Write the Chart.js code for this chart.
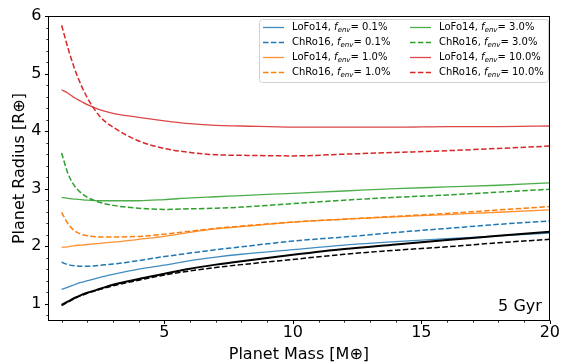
<!DOCTYPE html>
<html><head><meta charset="utf-8">
<script src="https://cdn.jsdelivr.net/npm/chart.js@4.4.0/dist/chart.umd.min.js"></script>
<style>html,body{margin:0;padding:0;background:#fff;}canvas{display:block;}</style>
</head><body>
<canvas id="c" width="562" height="364"></canvas>
<script>
// ---- data ----
const masses = [1, 1.25, 1.5, 1.75, 2, 2.5, 3, 4, 5, 6, 7, 8, 10, 12, 14, 16, 18, 20];
const rockyLoFo = [0.98, 1.04, 1.10, 1.15, 1.19, 1.26, 1.33, 1.43, 1.52, 1.61, 1.68, 1.74, 1.85, 1.95, 2.03, 2.11, 2.18, 2.25];
const rockyChRo = [0.97, 1.03, 1.09, 1.14, 1.18, 1.25, 1.31, 1.41, 1.50, 1.57, 1.63, 1.68, 1.77, 1.86, 1.93, 1.99, 2.06, 2.12];
const lofo01 = [1.25, 1.29, 1.33, 1.37, 1.40, 1.46, 1.51, 1.60, 1.67, 1.75, 1.81, 1.86, 1.94, 2.02, 2.08, 2.13, 2.18, 2.23];
const chro01 = [1.72, 1.68, 1.66, 1.65, 1.65, 1.67, 1.69, 1.75, 1.82, 1.88, 1.94, 1.99, 2.09, 2.16, 2.24, 2.31, 2.38, 2.44];
const lofo1 = [1.98, 1.99, 2.01, 2.02, 2.03, 2.05, 2.07, 2.12, 2.17, 2.24, 2.30, 2.34, 2.42, 2.47, 2.51, 2.55, 2.59, 2.63];
const chro1 = [2.59, 2.39, 2.27, 2.21, 2.18, 2.16, 2.16, 2.17, 2.21, 2.26, 2.31, 2.35, 2.42, 2.47, 2.52, 2.57, 2.63, 2.69];
const lofo3 = [2.85, 2.83, 2.82, 2.81, 2.80, 2.79, 2.79, 2.79, 2.81, 2.84, 2.86, 2.88, 2.92, 2.96, 3.00, 3.03, 3.06, 3.10];
const chro3 = [3.62, 3.26, 3.05, 2.93, 2.85, 2.76, 2.71, 2.66, 2.64, 2.65, 2.66, 2.68, 2.74, 2.80, 2.85, 2.89, 2.94, 2.99];
const lofo10 = [4.72, 4.66, 4.58, 4.52, 4.46, 4.37, 4.31, 4.24, 4.18, 4.13, 4.10, 4.09, 4.07, 4.07, 4.07, 4.08, 4.08, 4.09];
const chro10 = [5.84, 5.44, 5.09, 4.81, 4.58, 4.25, 4.07, 3.83, 3.70, 3.63, 3.59, 3.58, 3.57, 3.60, 3.63, 3.66, 3.70, 3.74];

const fenvLabels = ['0.1%', '1.0%', '3.0%', '10.0%'];
const modelNames = ['LoFo14', 'ChRo16'];
const xTickLabels = [5, 10, 15, 20];
const yTickLabels = [1, 2, 3, 4, 5, 6];
const ageLabel = '5 Gyr';
const xTitle = 'Planet Mass [M\u2295]';
const yTitle = 'Planet Radius [R\u2295]';

// ---- styles ----
const colors = ['#1f77b4', '#ff7f0e', '#2ca02c', '#d62728'];
const solidColors = ['rgba(31,119,180,0.85)', 'rgba(255,127,14,0.85)', 'rgba(44,160,44,0.85)', 'rgba(214,39,40,0.85)'];
const DASH = [5.5, 2.4];

function pts(arr) { return masses.map((m, i) => ({x: m, y: arr[i]})); }

const lofoSets = [lofo01, lofo1, lofo3, lofo10];
const chroSets = [chro01, chro1, chro3, chro10];
const datasets = [];
datasets.push({label: 'rocky LoFo14', data: pts(rockyLoFo), borderColor: '#000', borderWidth: 2, order: 0});
datasets.push({label: 'rocky ChRo16', data: pts(rockyChRo), borderColor: '#000', borderWidth: 1.5, borderDash: DASH, order: 1});
for (let k = 0; k < 4; k++) {
  datasets.push({label: modelNames[0] + ', f_env= ' + fenvLabels[k], model: modelNames[0], fenv: fenvLabels[k],
    inLegend: true, data: pts(lofoSets[k]), borderColor: solidColors[k], borderWidth: 1.3, order: 2 + 2 * k});
  datasets.push({label: modelNames[1] + ', f_env= ' + fenvLabels[k], model: modelNames[1], fenv: fenvLabels[k],
    inLegend: true, data: pts(chroSets[k]), borderColor: colors[k], borderWidth: 1.5, borderDash: DASH, order: 3 + 2 * k});
}

const FONT = '"DejaVu Sans", Verdana, sans-serif';
Chart.defaults.font.family = FONT;
Chart.defaults.color = '#000';

function roundRect(ctx, x, y, w, h, r) {
  ctx.beginPath();
  ctx.moveTo(x + r, y);
  ctx.lineTo(x + w - r, y); ctx.arcTo(x + w, y, x + w, y + r, r);
  ctx.lineTo(x + w, y + h - r); ctx.arcTo(x + w, y + h, x + w - r, y + h, r);
  ctx.lineTo(x + r, y + h); ctx.arcTo(x, y + h, x, y + h - r, r);
  ctx.lineTo(x, y + r); ctx.arcTo(x, y, x + r, y, r);
  ctx.closePath();
}

const axesPlugin = {
  id: 'mplAxes',
  afterDatasetsDraw(chart) {
    const {ctx, chartArea: a, scales} = chart;
    const xs = scales.x, ys = scales.y;
    ctx.save();
    ctx.strokeStyle = '#000';
    ctx.lineWidth = 1;
    const L = Math.round(a.left) + 0.5, R = Math.round(a.right) - 0.5;
    const T = Math.round(a.top) + 0.5, B = Math.round(a.bottom) - 0.5;
    ctx.strokeRect(L, T, R - L, B - T);
    const xMinor = [];
    for (let v = 1; v < 20; v++) if (!xTickLabels.includes(v)) xMinor.push(v);
    ctx.beginPath();
    xTickLabels.forEach(v => { const p = Math.round(xs.getPixelForValue(v)) + 0.5; ctx.moveTo(p, B); ctx.lineTo(p, B + 3.5); });
    yTickLabels.forEach(v => { const p = Math.round(ys.getPixelForValue(v)) + 0.5; ctx.moveTo(L, p); ctx.lineTo(L - 3.5, p); });
    ctx.stroke();
    ctx.lineWidth = 0.8;
    ctx.beginPath();
    xMinor.forEach(v => { const p = Math.round(xs.getPixelForValue(v)) + 0.5; ctx.moveTo(p, B); ctx.lineTo(p, B + 2.2); });
    for (let i = 4; i <= 30; i++) {
      const v = i / 5;
      if (Math.abs(v - Math.round(v)) < 1e-6) continue;
      const p = Math.round(ys.getPixelForValue(v)) + 0.5; ctx.moveTo(L, p); ctx.lineTo(L - 2.2, p);
    }
    ctx.stroke();
    ctx.fillStyle = '#000';
    ctx.font = '16px ' + FONT;
    ctx.textAlign = 'right';
    ctx.textBaseline = 'alphabetic';
    ctx.fillText(ageLabel, a.right - 8, a.bottom - 10.5);
    ctx.restore();
  },
  afterDraw(chart) {
    const ctx = chart.ctx;
    ctx.save();
    roundRect(ctx, 259.5, 19.5, 289, 63, 3);
    ctx.fillStyle = 'rgba(255,255,255,0.8)'; ctx.fill();
    ctx.strokeStyle = '#d0d0d0'; ctx.lineWidth = 1; ctx.stroke();
    const items = chart.data.datasets.filter(d => d.inLegend);
    items.forEach((d, i) => {
      const col = Math.floor(i / 4), row = i % 4;
      const x0 = col ? 410 : 263;
      const y = 27.5 + row * 15;
      ctx.beginPath();
      ctx.setLineDash(d.borderDash || []);
      ctx.strokeStyle = d.borderColor; ctx.lineWidth = d.borderWidth;
      ctx.moveTo(x0, y); ctx.lineTo(x0 + 21, y); ctx.stroke();
      ctx.setLineDash([]);
      ctx.fillStyle = '#000';
      ctx.textAlign = 'left'; ctx.textBaseline = 'middle';
      let x = x0 + 29;
      const segs = [[d.model + ', ', '10px ' + FONT, 0], ['f', 'italic 10px ' + FONT, 0], ['env', 'italic 7px ' + FONT, 2.5], ['= ' + d.fenv, '10px ' + FONT, 0]];
      segs.forEach(([t, f, dy]) => { ctx.font = f; ctx.fillText(t, x, y + dy); x += ctx.measureText(t).width; });
    });
    ctx.restore();
  }
};

new Chart(document.getElementById('c'), {
  type: 'line',
  data: {datasets},
  options: {
    responsive: false,
    animation: false,
    devicePixelRatio: 1,
    layout: {padding: {top: 14, right: 9, left: 0, bottom: 0}},
    elements: {point: {radius: 0}, line: {cubicInterpolationMode: 'monotone', fill: false}},
    plugins: {legend: {display: false}, tooltip: {enabled: false}},
    scales: {
      x: {
        type: 'linear', min: 0.47, max: 20,
        afterBuildTicks(s) { s.ticks = xTickLabels.map(v => ({value: v})); },
        afterFit(s) { s.height = 43; },
        grid: {display: false, drawTicks: false}, border: {display: false},
        ticks: {font: {size: 16}, padding: 2, maxRotation: 0, autoSkip: false, callback: v => String(v)},
        title: {display: true, text: xTitle, font: {size: 16}, padding: {top: 0, bottom: 0}}
      },
      y: {
        type: 'linear', min: 0.7, max: 6,
        afterBuildTicks(s) { s.ticks = yTickLabels.map(v => ({value: v})); },
        afterFit(s) { s.width = 48; },
        grid: {display: false, drawTicks: false}, border: {display: false},
        ticks: {font: {size: 16}, padding: 6.5, autoSkip: false, callback: v => String(v)},
        title: {display: true, text: yTitle, font: {size: 16}, padding: {top: 10, bottom: 0}}
      }
    }
  },
  plugins: [axesPlugin]
});
</script>
</body></html>
